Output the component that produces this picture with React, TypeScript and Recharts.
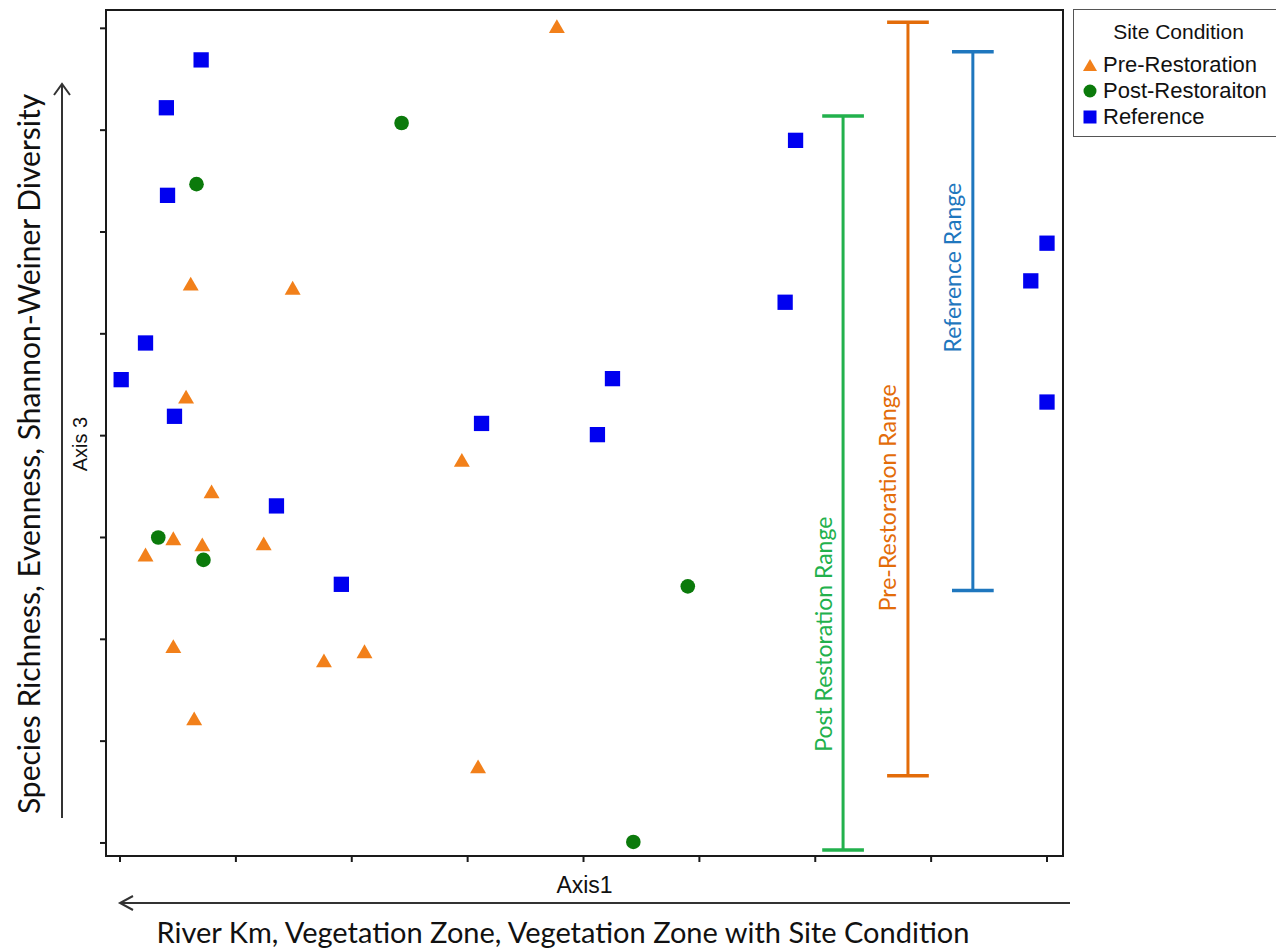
import React from 'react';
import {
    ScatterChart,
    Scatter,
    XAxis,
    YAxis,
    ReferenceLine,
    ReferenceArea,
    ReferenceDot,
    Legend,
    Symbols,
} from 'recharts';

// ordination scores (Axis1, Axis3)
const preRestoration = [
    { x: 3.77, y: 8.0 },
    { x: 0.61, y: 5.47 },
    { x: 1.49, y: 5.43 },
    { x: 0.57, y: 4.36 },
    { x: 0.79, y: 3.43 },
    { x: 0.46, y: 2.97 },
    { x: 0.71, y: 2.91 },
    { x: 0.22, y: 2.81 },
    { x: 1.24, y: 2.92 },
    { x: 2.95, y: 3.74 },
    { x: 0.46, y: 1.91 },
    { x: 0.64, y: 1.2 },
    { x: 1.76, y: 1.77 },
    { x: 2.11, y: 1.86 },
    { x: 3.09, y: 0.73 },
];

const postRestoration = [
    { x: 2.43, y: 7.07 },
    { x: 0.66, y: 6.47 },
    { x: 0.33, y: 3.0 },
    { x: 0.72, y: 2.78 },
    { x: 4.9, y: 2.52 },
    { x: 4.43, y: 0.01 },
];

const reference = [
    { x: 0.7, y: 7.69 },
    { x: 0.4, y: 7.22 },
    { x: 0.41, y: 6.36 },
    { x: 0.22, y: 4.91 },
    { x: 0.01, y: 4.55 },
    { x: 0.47, y: 4.19 },
    { x: 1.35, y: 3.31 },
    { x: 1.91, y: 2.54 },
    { x: 3.12, y: 4.12 },
    { x: 4.25, y: 4.56 },
    { x: 4.12, y: 4.01 },
    { x: 5.83, y: 6.9 },
    { x: 5.74, y: 5.31 },
    { x: 8.0, y: 5.89 },
    { x: 7.86, y: 5.52 },
    { x: 8.0, y: 4.33 },
];

// range bars: x position, low / high, and where the label sits along y
const ranges = [
    { key: 'post', name: 'Post Restoration Range', x: 6.24, low: -0.07, high: 7.14, labelY: 2.05 },
    { key: 'pre', name: 'Pre-Restoration Range', x: 6.8, low: 0.66, high: 8.06, labelY: 3.39 },
    { key: 'ref', name: 'Reference Range', x: 7.36, low: 2.48, high: 7.77, labelY: 5.65 },
];

const legendOrder = ['Pre-Restoration', 'Post-Restoraiton', 'Reference'];

const xTicks = [0, 1, 2, 3, 4, 5, 6, 7, 8];
const yTicks = [0, 1, 2, 3, 4, 5, 6, 7, 8];
const xDomain: [number, number] = [-0.121, 8.138];
const yDomain: [number, number] = [-0.128, 8.18];

const CAP = 0.18;

const COLORS = {
    pre: '#f2801a',
    post: '#0b7a0b',
    ref: '#0000f0',
};

const RANGE_COLORS: Record<string, string> = {
    post: '#22b14c',
    pre: '#e36c09',
    ref: '#1f77be',
};

const AXIS = '#1a1a1a';
const CALIBRI = 'Lato, "Open Sans", sans-serif';
const ARIAL = '"Liberation Sans", Arial, sans-serif';

const SIZES = { triangle: 110, circle: 168, square: 234 };

const shapeFor = (type: 'triangle' | 'circle' | 'square', fill: string) => (props: any) => (
    <Symbols cx={props.cx} cy={props.cy} type={type} size={SIZES[type]} fill={fill} />
);

const YTitle = (props: any) => {
    const { x, y } = props.viewBox;
    const arrowX = x + 62;
    return (
        <g>
            <text
                transform={`translate(${x + 40}, ${y + 444}) rotate(-90)`}
                textAnchor="middle"
                fontFamily={CALIBRI}
                fontSize={30}
                fill="#111"
            >
                Species Richness, Evenness, Shannon-Weiner Diversity
            </text>
            <line x1={arrowX} x2={arrowX} y1={y + 808} y2={y + 74} stroke="#333" strokeWidth={2} />
            <polyline
                points={`${arrowX - 8},${y + 85} ${arrowX},${y + 74} ${arrowX + 8},${y + 85}`}
                fill="none"
                stroke="#333"
                strokeWidth={2}
            />
            <text
                transform={`translate(${x + 87}, ${y + 434}) rotate(-90)`}
                textAnchor="middle"
                fontFamily={ARIAL}
                fontSize={20}
                fill="#111"
            >
                Axis 3
            </text>
        </g>
    );
};

const XTitle = (props: any) => {
    const { x, y, width } = props.viewBox;
    const arrowY = y + 47;
    return (
        <g>
            <text
                x={x + width / 2}
                y={y + 37}
                textAnchor="middle"
                fontFamily={ARIAL}
                fontSize={23}
                fill="#111"
            >
                Axis1
            </text>
            <line x1={x + 14} x2={x + 964} y1={arrowY} y2={arrowY} stroke="#333" strokeWidth={2} />
            <polyline
                points={`${x + 27},${arrowY - 7} ${x + 14},${arrowY} ${x + 27},${arrowY + 7}`}
                fill="none"
                stroke="#333"
                strokeWidth={2}
            />
            <text
                x={x + 457}
                y={y + 87}
                textAnchor="middle"
                fontFamily={CALIBRI}
                fontSize={29}
                fill="#111"
            >
                River Km, Vegetation Zone, Vegetation Zone with Site Condition
            </text>
        </g>
    );
};

const LegendIcon = ({ type, color }: { type: string; color: string }) => {
    let mark: React.ReactNode = null;
    if (type === 'triangle') mark = <polygon points="7,1 14,13 0,13" fill={color} />;
    else if (type === 'circle') mark = <circle cx={7} cy={7} r={6.5} fill={color} />;
    else mark = <rect x={0.5} y={0.5} width={13} height={13} fill={color} />;
    return (
        <svg width={14} height={14} style={{ marginLeft: 9, marginRight: 6, flex: 'none' }}>
            {mark}
        </svg>
    );
};

const SiteLegend = (props: any) => {
    const payload: any[] = props.payload || [];
    const items = legendOrder
        .map(name => payload.find(p => p.value === name))
        .filter(Boolean);
    return (
        <div
            style={{
                border: '1.5px solid #555',
                borderRight: 'none',
                height: 128,
                boxSizing: 'border-box',
                fontFamily: ARIAL,
                color: '#111',
                background: '#fff',
            }}
        >
            <div style={{ marginTop: 9, lineHeight: '26px', fontSize: 21, textAlign: 'center', paddingLeft: 7 }}>
                Site Condition
            </div>
            <div style={{ marginTop: 7 }}>
                {items.map((entry: any) => (
                    <div
                        key={entry.value}
                        style={{ display: 'flex', alignItems: 'center', height: 26, fontSize: 22, whiteSpace: 'nowrap' }}
                    >
                        <LegendIcon type={entry.type} color={entry.color} />
                        <span>{entry.value}</span>
                    </div>
                ))}
            </div>
        </div>
    );
};

const App: React.FC = () => {
    return (
        <div style={{ position: 'absolute', left: 0, top: 0, width: 1276, height: 949, background: '#fff', overflow: 'hidden' }}>
            <ScatterChart width={1276} height={949} margin={{ top: 10, right: 213, bottom: 0, left: 0 }}>
                <XAxis
                    type="number"
                    dataKey="x"
                    domain={xDomain}
                    ticks={xTicks}
                    allowDataOverflow
                    height={93}
                    tickSize={6}
                    tickFormatter={() => ''}
                    axisLine={{ stroke: AXIS, strokeWidth: 2 }}
                    tickLine={{ stroke: AXIS, strokeWidth: 2 }}
                    label={XTitle}
                />
                <YAxis
                    type="number"
                    dataKey="y"
                    domain={yDomain}
                    ticks={yTicks}
                    allowDataOverflow
                    width={106}
                    tickSize={6}
                    tickFormatter={() => ''}
                    axisLine={{ stroke: AXIS, strokeWidth: 2 }}
                    tickLine={{ stroke: AXIS, strokeWidth: 2 }}
                    label={YTitle}
                />
                <ReferenceArea
                    x1={xDomain[0]}
                    x2={xDomain[1]}
                    y1={yDomain[0]}
                    y2={yDomain[1]}
                    fill="none"
                    stroke={AXIS}
                    strokeWidth={2}
                    ifOverflow="visible"
                />
                {ranges.map(r => (
                    <ReferenceLine
                        key={`${r.key}-stem`}
                        segment={[{ x: r.x, y: r.low }, { x: r.x, y: r.high }]}
                        stroke={RANGE_COLORS[r.key]}
                        strokeWidth={3}
                        ifOverflow="visible"
                    />
                ))}
                {ranges.map(r => (
                    <ReferenceLine
                        key={`${r.key}-top`}
                        segment={[{ x: r.x - CAP, y: r.high }, { x: r.x + CAP, y: r.high }]}
                        stroke={RANGE_COLORS[r.key]}
                        strokeWidth={3.5}
                        ifOverflow="visible"
                    />
                ))}
                {ranges.map(r => (
                    <ReferenceLine
                        key={`${r.key}-bottom`}
                        segment={[{ x: r.x - CAP, y: r.low }, { x: r.x + CAP, y: r.low }]}
                        stroke={RANGE_COLORS[r.key]}
                        strokeWidth={3.5}
                        ifOverflow="visible"
                    />
                ))}
                {ranges.map(r => (
                    <ReferenceDot
                        key={`${r.key}-label`}
                        x={r.x - 0.17}
                        y={r.labelY}
                        r={0}
                        fill="none"
                        stroke="none"
                        ifOverflow="visible"
                        label={{
                            value: r.name,
                            position: 'center',
                            angle: -90,
                            fill: RANGE_COLORS[r.key],
                            fontSize: 23,
                            fontFamily: CALIBRI,
                        }}
                    />
                ))}
                <Scatter
                    name="Pre-Restoration"
                    data={preRestoration}
                    fill={COLORS.pre}
                    legendType="triangle"
                    shape={shapeFor('triangle', COLORS.pre)}
                    isAnimationActive={false}
                />
                <Scatter
                    name="Post-Restoraiton"
                    data={postRestoration}
                    fill={COLORS.post}
                    legendType="circle"
                    shape={shapeFor('circle', COLORS.post)}
                    isAnimationActive={false}
                />
                <Scatter
                    name="Reference"
                    data={reference}
                    fill={COLORS.ref}
                    legendType="square"
                    shape={shapeFor('square', COLORS.ref)}
                    isAnimationActive={false}
                />
                <Legend
                    layout="horizontal"
                    verticalAlign="middle"
                    align="center"
                    content={SiteLegend}
                    wrapperStyle={{ position: 'absolute', left: 1073, top: 9, width: 203, height: 128 }}
                />
            </ScatterChart>
        </div>
    );
};

export default App;
